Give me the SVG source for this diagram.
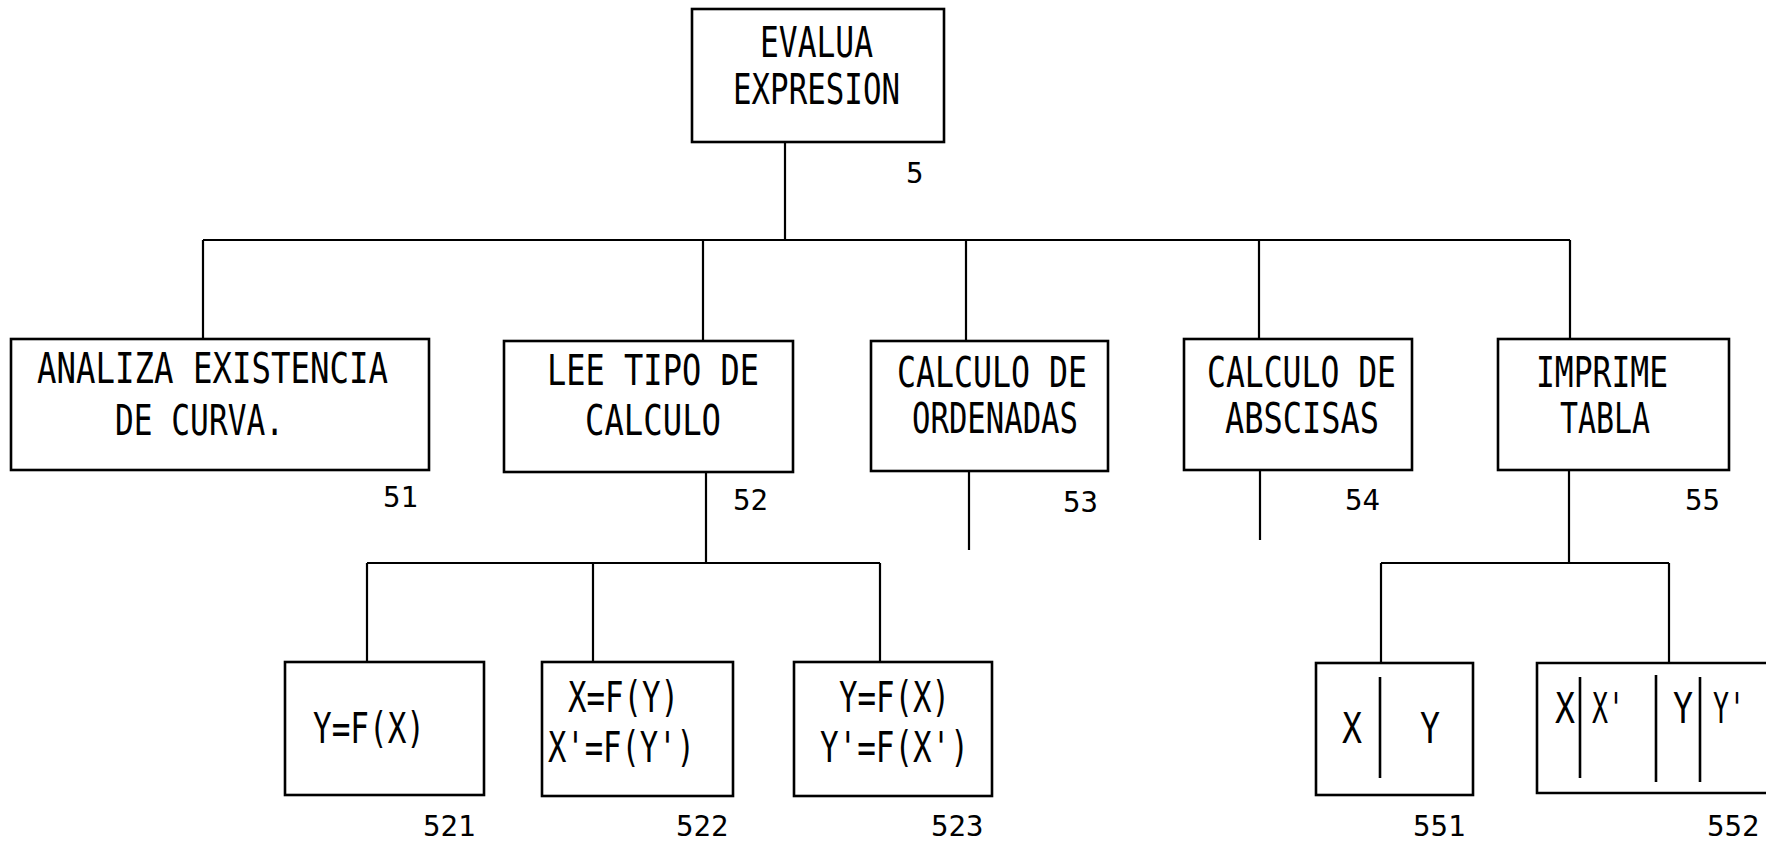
<svg xmlns="http://www.w3.org/2000/svg" width="1766" height="846" viewBox="0 0 1766 846">
<style>
.box{fill:none;stroke:#000;stroke-width:2.6}
.div{fill:none;stroke:#000;stroke-width:2.6}
.conn{fill:none;stroke:#000;stroke-width:2.2}
.t{font-family:"DejaVu Sans Mono","Liberation Mono",monospace;font-size:43px;fill:#000}
.n{font-family:"DejaVu Sans Mono","Liberation Mono",monospace;font-size:29px;fill:#000}
</style>
<rect width="1766" height="846" fill="#fff"/>
<g id="connectors">
<path class="conn" d="M785,142V240M203,240H1570M203,240V339M703,240V341M966,240V341M1259,240V339M1570,240V339"/>
<path class="conn" d="M706,472V563M367,563H880M367,563V662M593,563V662M880,563V662"/>
<path class="conn" d="M969,471V550M1260,470V540"/>
<path class="conn" d="M1569,470V563M1381,563H1669M1381,563V663M1669,563V663"/>
</g>
<g id="n5">
<rect class="box" x="692" y="9" width="252" height="133"/>
<text class="t" x="760" y="57" textLength="113" lengthAdjust="spacingAndGlyphs">EVALUA</text>
<text class="t" x="733" y="104" textLength="167" lengthAdjust="spacingAndGlyphs">EXPRESION</text>
<text class="n" x="906" y="183">5</text>
</g>
<g id="n51">
<rect class="box" x="11" y="339" width="418" height="131"/>
<text class="t" x="37" y="383" textLength="351" lengthAdjust="spacingAndGlyphs">ANALIZA EXISTENCIA</text>
<text class="t" x="115" y="435" textLength="169" lengthAdjust="spacingAndGlyphs">DE CURVA.</text>
<text class="n" x="383" y="507">51</text>
</g>
<g id="n52">
<rect class="box" x="504" y="341" width="289" height="131"/>
<text class="t" x="547" y="385" textLength="212" lengthAdjust="spacingAndGlyphs">LEE TIPO DE</text>
<text class="t" x="585" y="435" textLength="136" lengthAdjust="spacingAndGlyphs">CALCULO</text>
<text class="n" x="733" y="510">52</text>
</g>
<g id="n53">
<rect class="box" x="871" y="341" width="237" height="130"/>
<text class="t" x="897" y="387" textLength="190" lengthAdjust="spacingAndGlyphs">CALCULO DE</text>
<text class="t" x="912" y="433" textLength="166" lengthAdjust="spacingAndGlyphs">ORDENADAS</text>
<text class="n" x="1063" y="512">53</text>
</g>
<g id="n54">
<rect class="box" x="1184" y="339" width="228" height="131"/>
<text class="t" x="1207" y="387" textLength="189" lengthAdjust="spacingAndGlyphs">CALCULO DE</text>
<text class="t" x="1225" y="433" textLength="154" lengthAdjust="spacingAndGlyphs">ABSCISAS</text>
<text class="n" x="1345" y="510">54</text>
</g>
<g id="n55">
<rect class="box" x="1498" y="339" width="231" height="131"/>
<text class="t" x="1536" y="387" textLength="132" lengthAdjust="spacingAndGlyphs">IMPRIME</text>
<text class="t" x="1560" y="433" textLength="90" lengthAdjust="spacingAndGlyphs">TABLA</text>
<text class="n" x="1685" y="510">55</text>
</g>
<g id="n521">
<rect class="box" x="285" y="662" width="199" height="133"/>
<text class="t" x="313" y="743" textLength="112" lengthAdjust="spacingAndGlyphs">Y=F(X)</text>
<text class="n" x="423" y="836">521</text>
</g>
<g id="n522">
<rect class="box" x="542" y="662" width="191" height="134"/>
<text class="t" x="568" y="712" textLength="111" lengthAdjust="spacingAndGlyphs">X=F(Y)</text>
<text class="t" x="548" y="762" textLength="147" lengthAdjust="spacingAndGlyphs">X'=F(Y')</text>
<text class="n" x="676" y="836">522</text>
</g>
<g id="n523">
<rect class="box" x="794" y="662" width="198" height="134"/>
<text class="t" x="839" y="712" textLength="111" lengthAdjust="spacingAndGlyphs">Y=F(X)</text>
<text class="t" x="820" y="762" textLength="149" lengthAdjust="spacingAndGlyphs">Y'=F(X')</text>
<text class="n" x="931" y="836">523</text>
</g>
<g id="n551">
<rect class="box" x="1316" y="663" width="157" height="132"/>
<path class="div" d="M1380,677V778"/>
<text class="t" x="1342" y="743" textLength="20" lengthAdjust="spacingAndGlyphs">X</text>
<text class="t" x="1420" y="743" textLength="20" lengthAdjust="spacingAndGlyphs">Y</text>
<text class="n" x="1413" y="836">551</text>
</g>
<g id="n552">
<path class="box" d="M1770,663H1537V793H1770"/>
<path class="div" d="M1580,677V778M1656,675V782M1700,677V782"/>
<text class="t" x="1555" y="723" textLength="20" lengthAdjust="spacingAndGlyphs">X</text>
<text class="t" x="1592" y="723" textLength="32" lengthAdjust="spacingAndGlyphs">X'</text>
<text class="t" x="1673" y="723" textLength="20" lengthAdjust="spacingAndGlyphs">Y</text>
<text class="t" x="1713" y="723" textLength="32" lengthAdjust="spacingAndGlyphs">Y'</text>
<text class="n" x="1707" y="836">552</text>
</g>
</svg>
